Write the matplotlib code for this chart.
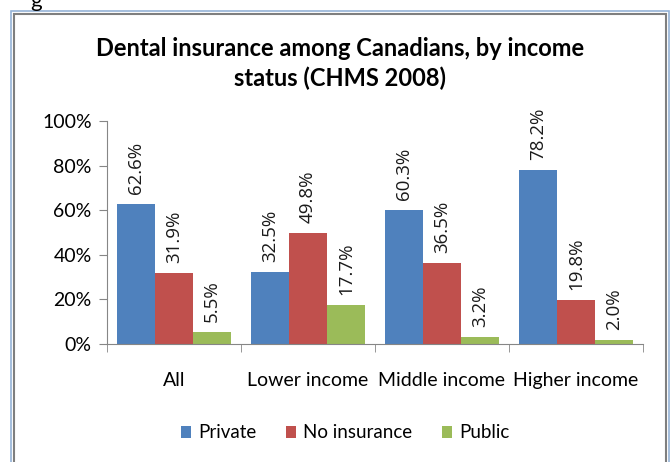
import matplotlib.pyplot as plt
import matplotlib.patches as mpatches
import numpy as np
from matplotlib.ticker import FuncFormatter

# --- data ---
categories = ["All", "Lower income", "Middle income", "Higher income"]
private = [62.6, 32.5, 60.3, 78.2]
no_insurance = [31.9, 49.8, 36.5, 19.8]
public = [5.5, 17.7, 3.2, 2.0]
series_names = ["Private", "No insurance", "Public"]
colors = ["#4F81BD", "#C0504D", "#9BBB59"]

plt.rcParams['font.family'] = ['Lato', 'DejaVu Sans']

fig = plt.figure(figsize=(6.7, 4.62), dpi=100)
ax = fig.add_axes([0.1597, 0.2554, 0.8, 0.4826])

# chart frame
fig.patches.append(mpatches.Rectangle((11/670, -0.05), 658/670, 1 - 11/462 + 0.05,
                                      transform=fig.transFigure, fill=False,
                                      edgecolor="#95B3D7", linewidth=1.2))
fig.patches.append(mpatches.Rectangle((14/670, -0.05), 652/670, 1 - 14/462 + 0.05,
                                      transform=fig.transFigure, fill=False,
                                      edgecolor="#7F7F7F", linewidth=1.5))
# caption line above the chart (only its descender shows)
fig.text(30/670, 1 + 9/462, "g", fontsize=16, va="top", ha="left", color="black")

x = np.arange(len(categories))
w = 0.284
for i, (vals, name, col) in enumerate(zip([private, no_insurance, public], series_names, colors)):
    pos = x + (i - 1) * w
    ax.bar(pos, vals, width=w, color=col, label=name, linewidth=0)
    for p, v in zip(pos, vals):
        ax.text(p, v + 4.5, f"{v:.1f}%", rotation=90, ha="center", va="bottom",
                fontsize=13.5, family=["Open Sans", "DejaVu Sans"], color="#1a1a1a")

ax.set_xlim(-0.5, len(categories) - 0.5)
ax.set_ylim(0, 100)
ax.set_yticks(range(0, 101, 20))
ax.yaxis.set_major_formatter(FuncFormatter(lambda v, _: f"{int(v)}%"))
ax.set_xticks(x)
ax.set_xticklabels(categories)
ax.set_xticks(np.arange(-0.5, len(categories), 1), minor=True)
ax.tick_params(axis="x", which="major", length=0, pad=20, labelsize=14)
ax.tick_params(axis="x", which="minor", length=6, color="#868686")
ax.tick_params(axis="y", length=6, color="#868686", labelsize=14, pad=5)

for s in ["top", "right"]:
    ax.spines[s].set_visible(False)
for s in ["left", "bottom"]:
    ax.spines[s].set_color("#868686")

fig.text(0.507, 1 - 48/462, "Dental insurance among Canadians, by income",
         ha="center", va="center", fontsize=17, fontweight="bold")
fig.text(0.507, 1 - 78/462, "status (CHMS 2008)",
         ha="center", va="center", fontsize=17, fontweight="bold")

fig.legend(loc="center", bbox_to_anchor=(345/670, 1 - 433/462), ncol=3, frameon=False,
           fontsize=13.5, handlelength=0.55, handleheight=0.55, handletextpad=0.35,
           columnspacing=1.6)

fig.savefig("out.png", dpi=100)
